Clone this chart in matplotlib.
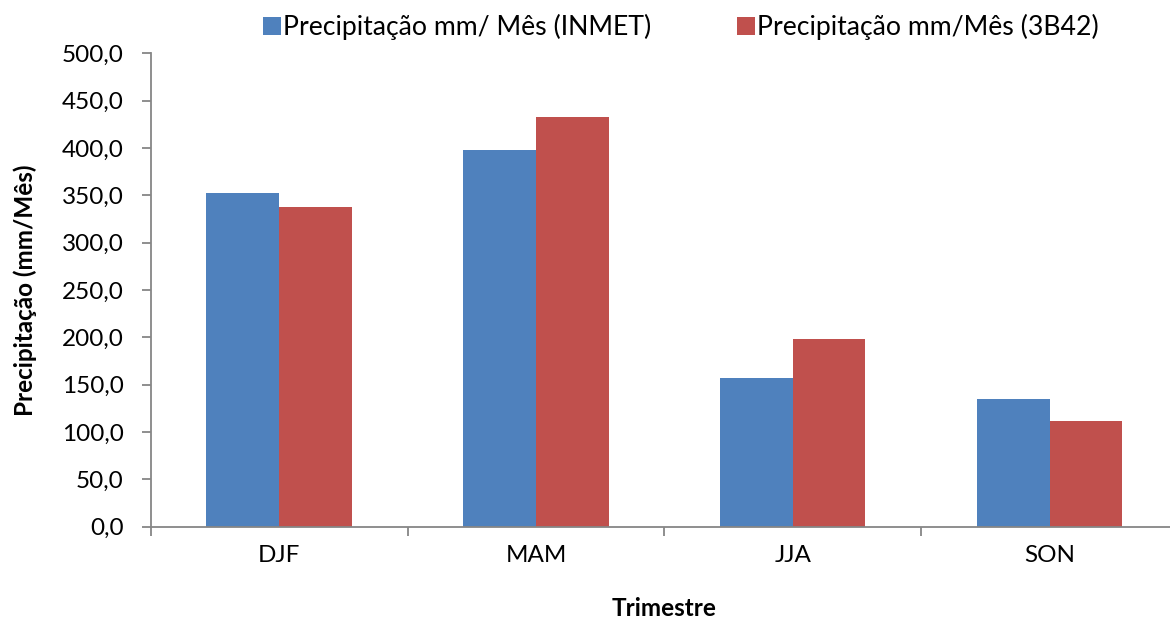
import matplotlib
matplotlib.use("Agg")
import matplotlib.pyplot as plt
import numpy as np
from matplotlib.patches import Patch

categories = ["DJF", "MAM", "JJA", "SON"]
inmet = [352.1, 397.8, 157.4, 134.5]
trmm = [337.3, 432.8, 198.2, 111.8]
series_names = ["Precipitação mm/ Mês (INMET)", "Precipitação mm/Mês (3B42)"]
yticks = [0, 50, 100, 150, 200, 250, 300, 350, 400, 450, 500]
ytick_labels = ["0,0", "50,0", "100,0", "150,0", "200,0", "250,0", "300,0",
                "350,0", "400,0", "450,0", "500,0"]
xlabel = "Trimestre"
ylabel = "Precipitação (mm/Mês)"

plt.rcParams['font.family'] = ['Lato', 'DejaVu Sans']

blue = "#4F81BD"
red = "#C0504D"
gray = "#868686"

fig = plt.figure(figsize=(11.7, 6.25), dpi=100)
W, H = 1170, 625
left_px, right_px = 150.7, 1178.0
top_px, bottom_px = 53.3, 526.7
ax = fig.add_axes([left_px / W, 1 - bottom_px / H,
                   (right_px - left_px) / W, (bottom_px - top_px) / H])

x = np.arange(len(categories))
bw = 0.283
ax.bar(x - bw / 2, inmet, width=bw, color=blue, linewidth=0)
ax.bar(x + bw / 2, trmm, width=bw, color=red, linewidth=0)

ax.set_xlim(-0.5, len(categories) - 0.5)
ax.set_ylim(0, 500)

for s in ["top", "right"]:
    ax.spines[s].set_visible(False)
for s in ["left", "bottom"]:
    ax.spines[s].set_color(gray)
    ax.spines[s].set_linewidth(1.3)

ax.set_yticks(yticks)
ax.set_yticklabels(ytick_labels)
ax.tick_params(axis="y", direction="out", length=6.5, width=1.3, color=gray,
               pad=13, labelsize=17.5, labelcolor="black")

ax.set_xticks(x)
ax.set_xticklabels(categories)
ax.set_xticks(np.arange(-0.5, len(categories), 1.0), minor=True)
ax.tick_params(axis="x", which="major", length=0, pad=13.5, labelsize=17.5,
               labelcolor="black")
ax.tick_params(axis="x", which="minor", direction="out", length=6.5, width=1.3,
               color=gray)

ax.set_xlabel(xlabel, fontsize=17.5, fontweight="bold", labelpad=22)
ax.set_ylabel(ylabel, fontsize=17.5, fontweight="bold", labelpad=18)

handles = [Patch(facecolor=blue, edgecolor="none"),
           Patch(facecolor=red, edgecolor="none")]
fig.legend(handles, series_names, loc="center", ncol=2,
           bbox_to_anchor=(681 / W, 1 - 27 / H), frameon=False,
           fontsize=19.2, handlelength=0.67, handleheight=0.67,
           handletextpad=0.1, columnspacing=3.2, borderaxespad=0)

fig.savefig("out.png", dpi=100)
